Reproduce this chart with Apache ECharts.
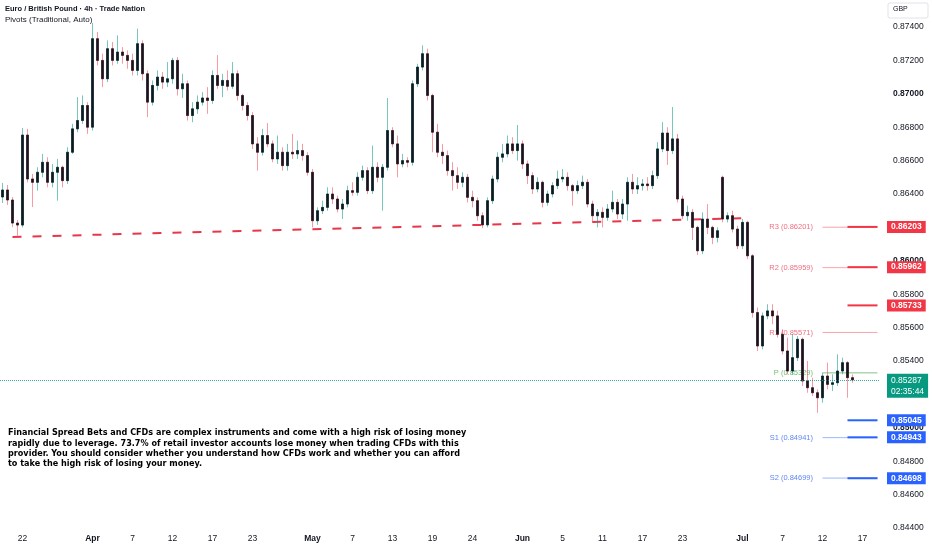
<!DOCTYPE html>
<html><head><meta charset="utf-8">
<script src="https://cdn.jsdelivr.net/npm/echarts@6/dist/echarts.min.js"></script>
<style>html,body{margin:0;padding:0;background:#fff}#c{width:932px;height:550px}</style>
</head><body><div id="c"></div>
<script>
// ---------- data ----------
const startDate = '2026-03-19';
const tradingDayCount = 88;
const sessions = ['00:00', '12:00'];

const opens = [
.86382,.86424,.86364,.86226,.86214,.86753,.86490,.86470,.86530,.86590,
.86470,.86530,.86560,.86480,.86650,.86790,.86840,.86930,.86800,.87330,
.87200,.87090,.87270,.87200,.87250,.87230,.87200,.87140,.87300,.87120,
.86950,.87050,.87100,.87070,.87090,.87200,.87030,.87060,.86870,.86910,
.86950,.86975,.86960,.87110,.87050,.87080,.87045,.87120,.86990,.86930,
.86870,.86700,.86650,.86750,.86700,.86610,.86650,.86570,.86650,.86640,
.86660,.86630,.86530,.86240,.86300,.86320,.86400,.86370,.86310,.86340,
.86420,.86410,.86500,.86540,.86420,.86560,.86500,.86560,.86780,.86700,
.86580,.86600,.86590,.87060,.87160,.87240,.86990,.86770,.86650,.86630,
.86540,.86510,.86470,.86500,.86380,.86360,.86270,.86215,.86360,.86490,
.86620,.86640,.86700,.86660,.86700,.86580,.86510,.86430,.86470,.86350,
.86400,.86450,.86490,.86500,.86450,.86420,.86450,.86470,.86340,.86270,
.86290,.86260,.86310,.86350,.86280,.86340,.86470,.86430,.86450,.86460,
.86450,.86510,.86670,.86765,.86660,.86730,.86370,.86270,.86290,.86200,
.86060,.86250,.86200,.86140,.86500,.86250,.86270,.86190,.86090,.86230,
.86030,.85690,.85490,.85670,.85700,.85670,.85560,.85460,.85340,.85420,
.85530,.85280,.85240,.85210,.85180,.85310,.85260,.85270,.85340,.85390,
.85300];
const highs = [
.86466,.86454,.86382,.86244,.86795,.86790,.86520,.86560,.86640,.86620,
.86580,.86610,.86570,.86680,.86820,.86980,.86990,.86950,.87424,.87370,
.87240,.87320,.87310,.87350,.87280,.87260,.87240,.87390,.87320,.87140,
.87080,.87140,.87130,.87190,.87215,.87220,.87120,.87080,.86950,.86990,
.87010,.87040,.87140,.87232,.87120,.87140,.87190,.87140,.87000,.86950,
.86890,.86740,.86790,.86825,.86720,.86750,.86680,.86700,.86760,.86720,
.86700,.86650,.86550,.86320,.86360,.86440,.86440,.86390,.86370,.86450,
.86470,.86530,.86570,.86560,.86690,.86590,.86580,.86975,.86800,.86750,
.86640,.86620,.87080,.87180,.87290,.87270,.87000,.86820,.86700,.86660,
.86590,.86560,.86530,.86520,.86420,.86380,.86290,.86380,.86510,.86650,
.86700,.86750,.86740,.86813,.86720,.86600,.86530,.86500,.86480,.86420,
.86470,.86540,.86550,.86530,.86460,.86480,.86510,.86490,.86360,.86310,
.86320,.86340,.86420,.86370,.86370,.86500,.86520,.86500,.86490,.86500,
.86540,.86710,.86830,.86800,.86921,.86760,.86390,.86330,.86310,.86210,
.86290,.86340,.86210,.86200,.86510,.86290,.86300,.86210,.86250,.86240,
.86040,.85720,.85690,.85740,.85740,.85700,.85590,.85540,.85560,.85550,
.85540,.85400,.85300,.85230,.85330,.85390,.85320,.85440,.85420,.85400,
.85320];
const lows = [
.86346,.86334,.86202,.86150,.86200,.86470,.86322,.86420,.86500,.86440,
.86440,.86360,.86440,.86460,.86640,.86770,.86820,.86760,.86780,.87170,
.87040,.87070,.87170,.87180,.87180,.87150,.87110,.87110,.87080,.86860,
.86930,.87020,.87030,.87040,.87060,.86990,.86975,.86840,.86830,.86880,
.86930,.86880,.86940,.87030,.86980,.87020,.87030,.86960,.86900,.86840,
.86670,.86540,.86630,.86680,.86590,.86580,.86540,.86540,.86610,.86610,
.86600,.86510,.86200,.86215,.86280,.86300,.86340,.86290,.86250,.86320,
.86390,.86390,.86480,.86400,.86400,.86470,.86300,.86540,.86680,.86500,
.86560,.86560,.86570,.87040,.87140,.86960,.86650,.86620,.86580,.86510,
.86420,.86430,.86440,.86350,.86320,.86240,.86195,.86200,.86340,.86470,
.86590,.86620,.86640,.86600,.86550,.86460,.86400,.86410,.86320,.86330,
.86380,.86430,.86470,.86420,.86330,.86400,.86430,.86320,.86230,.86200,
.86200,.86240,.86290,.86250,.86250,.86240,.86400,.86400,.86420,.86420,
.86430,.86490,.86650,.86574,.86640,.86350,.86250,.86240,.86125,.86035,
.86040,.86160,.86100,.86110,.86230,.86230,.86170,.86070,.86070,.86010,
.85660,.85460,.85470,.85650,.85620,.85540,.85440,.85320,.85320,.85400,
.85250,.85210,.85190,.85090,.85150,.85230,.85220,.85250,.85320,.85180,
.85270];
const closes = [
.86424,.86364,.86226,.86214,.86753,.86490,.86470,.86530,.86590,.86470,
.86530,.86560,.86480,.86650,.86790,.86840,.86930,.86800,.87330,.87200,
.87090,.87270,.87200,.87250,.87230,.87200,.87140,.87300,.87120,.86950,
.87050,.87100,.87070,.87090,.87200,.87030,.87060,.86870,.86910,.86950,
.86975,.86960,.87110,.87050,.87080,.87045,.87120,.86990,.86930,.86870,
.86700,.86650,.86750,.86700,.86610,.86650,.86570,.86650,.86640,.86660,
.86630,.86530,.86240,.86300,.86320,.86400,.86370,.86310,.86340,.86420,
.86410,.86500,.86540,.86420,.86560,.86500,.86560,.86780,.86700,.86580,
.86600,.86590,.87060,.87160,.87240,.86990,.86770,.86650,.86630,.86540,
.86510,.86470,.86500,.86380,.86360,.86270,.86215,.86360,.86490,.86620,
.86640,.86700,.86660,.86700,.86580,.86510,.86430,.86470,.86350,.86400,
.86450,.86490,.86500,.86450,.86420,.86450,.86470,.86340,.86270,.86290,
.86260,.86310,.86350,.86280,.86340,.86470,.86430,.86450,.86460,.86450,
.86510,.86670,.86765,.86660,.86730,.86370,.86270,.86290,.86200,.86060,
.86250,.86200,.86140,.86180,.86250,.86270,.86190,.86090,.86230,.86030,
.85690,.85490,.85670,.85700,.85670,.85560,.85460,.85340,.85420,.85530,
.85280,.85240,.85210,.85180,.85310,.85260,.85270,.85340,.85390,.85300,
.85287];

const tickDates  = ['2026-03-23','2026-04-01','2026-04-07','2026-04-13','2026-04-17','2026-04-23','2026-05-01','2026-05-07','2026-05-13','2026-05-19','2026-05-25','2026-06-01','2026-06-05','2026-06-11','2026-06-17','2026-06-23','2026-07-01','2026-07-07','2026-07-13','2026-07-17'];
const tickLabels = ['22','Apr','7','12','17','23','May','7','13','19','24','Jun','5','11','17','23','Jul','7','12','17'];
const monthNames = ['Apr','May','Jun','Jul'];

const trendDates  = ['2026-03-20 00:00', '2026-07-01 12:00'];
const trendPrices = [0.86143, 0.86256];

const pivotNames  = ['R3','R2','R1','P','S1','S2'];
const pivotValues = [0.86201, 0.85959, 0.85571, 0.85329, 0.84941, 0.84699];
const pivotStart  = '2026-07-13 00:00';

const levelValues = [0.86203, 0.85962, 0.85733, 0.85045, 0.84943, 0.84698];
const levelStart  = '2026-07-15 12:00';

const countdown = '02:35:44';
const title = 'Euro / British Pound · 4h · Trade Nation';
const subtitle = 'Pivots (Traditional, Auto)';
const currency = 'GBP';
const disclaimer = [
 'Financial Spread Bets and CFDs are complex instruments and come with a high risk of losing money',
 'rapidly due to leverage. 73.7% of retail investor accounts lose money when trading CFDs with this',
 'provider. You should consider whether you understand how CFDs work and whether you can afford',
 'to take the high risk of losing your money.'
];

// ---------- build ----------
const FONT = '"Liberation Sans", Arial, sans-serif';
const TXT = '#131722';
const RED = '#f23645', BLUE = '#2962ff', GREEN = '#089981';

function tradingDates(start, count) {
  const out = [];
  const d = new Date(start + 'T00:00:00Z');
  while (out.length < count) {
    const wd = d.getUTCDay();
    if (wd !== 0 && wd !== 6) out.push(d.toISOString().slice(0, 10));
    d.setUTCDate(d.getUTCDate() + 1);
  }
  return out;
}
const days = tradingDates(startDate, tradingDayCount);
const categories = [];
days.forEach(day => sessions.forEach(s => categories.push(day + ' ' + s)));
const lastCat = categories[categories.length - 1];

const wickData = opens.map((o, i) => [o, closes[i], Math.min(lows[i], o, closes[i]), Math.max(highs[i], o, closes[i])]);
const bodyData = opens.map((o, i) => [o, closes[i], Math.min(o, closes[i]), Math.max(o, closes[i])]);
const lastPrice = closes[closes.length - 1];

const HIDDEN_LINE = { color: 'rgba(0,0,0,0)', width: 0 };
const series = [];

// trend line
series.push({
  type: 'line', z: 2, silent: true, symbol: 'none', clip: false,
  data: trendDates.map((d, i) => [d, trendPrices[i]]),
  lineStyle: { color: '#e8364a', width: 2, type: [9, 11] }
});

// pivot lines
pivotNames.forEach((name, i) => {
  const v = pivotValues[i];
  const isR = name[0] === 'R', isP = name === 'P';
  const lineCol = isR ? 'rgba(242,54,69,0.45)' : isP ? 'rgba(76,175,80,0.7)' : 'rgba(41,98,255,0.45)';
  const txtCol = isR ? '#ef6f80' : isP ? '#6fbf73' : '#5f86f5';
  series.push({
    type: 'line', z: 1, silent: true, clip: false,
    symbol: 'circle', symbolSize: 1, itemStyle: { color: 'rgba(0,0,0,0)' },
    lineStyle: { color: lineCol, width: 1 },
    data: [
      { value: [pivotStart, v], label: { show: true, position: 'left', distance: 9,
        formatter: name + ' (' + v.toFixed(5) + ')', color: txtCol, fontSize: 7.5, fontFamily: FONT } },
      [lastCat, v]
    ]
  });
});

// user horizontal levels with axis boxes
levelValues.forEach(v => {
  const col = v > lastPrice ? RED : BLUE;
  series.push({
    type: 'line', z: 4, silent: true, clip: false, symbol: 'none',
    lineStyle: { color: col, width: 2 },
    data: [[levelStart, v], [lastCat, v]],
    markLine: {
      silent: true, symbol: ['none', 'none'], animation: false, precision: 5,
      data: [{ yAxis: v, lineStyle: HIDDEN_LINE,
        label: { show: true, position: 'end', distance: 7, formatter: v.toFixed(5),
          backgroundColor: col, color: '#fff', fontWeight: 'bold', fontSize: 8.5, fontFamily: FONT,
          padding: [2, 4, 1, 4] } }]
    }
  });
});

// candles: wicks then bodies
series.push({
  type: 'candlestick', z: 3, silent: true, clip: false, barWidth: 3,
  data: wickData,
  itemStyle: { color: 'rgba(8,153,129,0.55)', color0: 'rgba(242,54,69,0.5)',
    borderColor: 'rgba(8,153,129,0.55)', borderColor0: 'rgba(242,54,69,0.5)', borderWidth: 1 }
});
series.push({
  type: 'candlestick', z: 3, silent: true, clip: false, barWidth: 3,
  data: bodyData,
  itemStyle: { color: TXT, color0: TXT, borderColor: TXT, borderColor0: TXT, borderWidth: 0.6 }
});

// last price line + box
series.push({
  type: 'line', z: 5, silent: true, clip: false, symbol: 'none',
  lineStyle: HIDDEN_LINE,
  data: [[lastCat, lastPrice]],
  markLine: {
    silent: true, symbol: ['none', 'none'], animation: false, precision: 5,
    data: [{ yAxis: lastPrice,
      lineStyle: { type: 'dotted', color: GREEN, width: 1, opacity: 0.8 },
      label: { show: true, position: 'end', distance: 7, offset: [0, 6],
        formatter: lastPrice.toFixed(5) + '\n' + countdown, lineHeight: 11,
        backgroundColor: GREEN, color: '#fff', fontSize: 8.5, fontFamily: FONT, opacity: 1,
        padding: [1, 4, 1, 4] } }]
  }
});

const option = {
  animation: false,
  backgroundColor: '#ffffff',
  grid: { left: 0, right: 52, top: 27, bottom: 22, containLabel: false },
  xAxis: {
    type: 'category', data: categories, boundaryGap: true,
    axisLine: { show: false }, axisTick: { show: false }, splitLine: { show: false },
    axisLabel: {
      margin: 6, color: TXT, fontSize: 8.5, fontFamily: FONT, hideOverlap: false,
      interval: (idx, val) => {
        const p = String(val).split(' ');
        return p[1] === sessions[0] && tickDates.indexOf(p[0]) >= 0;
      },
      formatter: (val) => {
        const t = tickLabels[tickDates.indexOf(String(val).split(' ')[0])] || '';
        return monthNames.indexOf(t) >= 0 ? '{b|' + t + '}' : t;
      },
      rich: { b: { fontWeight: 'bold', color: TXT, fontSize: 8.5, fontFamily: FONT } }
    }
  },
  yAxis: {
    type: 'value', position: 'right', scale: true,
    min: 0.844, max: 0.874, interval: 0.002,
    axisLine: { show: false }, axisTick: { show: false }, splitLine: { show: false },
    axisLabel: {
      margin: 13, color: TXT, fontSize: 8.5, fontFamily: FONT, align: 'left',
      formatter: (v) => {
        const s = v.toFixed(5);
        return Math.abs(v * 100 - Math.round(v * 100)) < 1e-6 ? '{b|' + s + '}' : s;
      },
      rich: { b: { fontWeight: 'bold', color: TXT, fontSize: 8.5, fontFamily: FONT } }
    }
  },
  graphic: [
    { type: 'text', left: 5, top: 5, z: 10, style: { text: title, fontSize: 7.5, fontWeight: 'bold', fontFamily: FONT, fill: TXT } },
    { type: 'text', left: 5, top: 16, z: 10, style: { text: subtitle, fontSize: 8, fontFamily: FONT, fill: TXT } },
    { type: 'rect', z: 10, shape: { x: 888, y: 3, width: 40, height: 15, r: 2 }, style: { fill: '#fff', stroke: '#e0e3eb', lineWidth: 1 } },
    { type: 'text', z: 11, x: 893, y: 6, style: { text: currency, fontSize: 7, fontFamily: FONT, fill: TXT } },
    { type: 'text', left: 8, top: 428, z: 10, style: { text: disclaimer.join('\n'), fontSize: 9, lineHeight: 10.2,
        fontWeight: 'bold', fontFamily: '"DejaVu Sans Condensed", "DejaVu Sans", sans-serif', fill: '#000' } }
  ],
  series: series
};

const chart = echarts.init(document.getElementById('c'), null, { renderer: 'canvas' });
chart.setOption(option);
</script>
</body></html>
